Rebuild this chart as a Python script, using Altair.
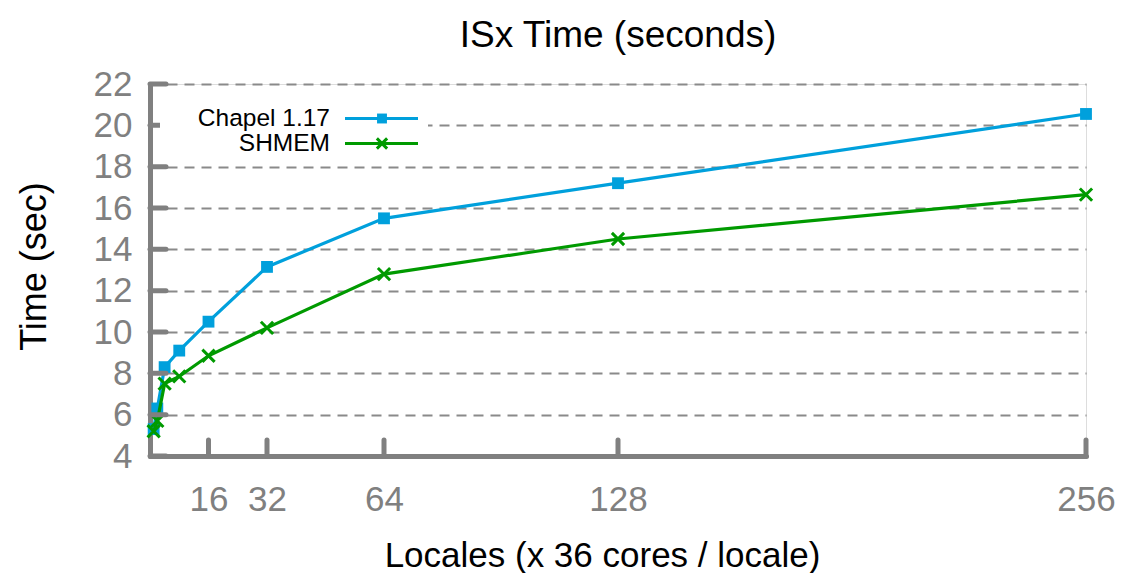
import altair as alt
import pandas as pd

# ISx weak-scaling timings
locales = [1, 2, 4, 8, 16, 32, 64, 128, 256]
chapel_times = [5.3, 6.3, 8.3, 9.1, 10.5, 13.15, 15.5, 17.2, 20.55]
shmem_times = [5.2, 5.7, 7.5, 7.85, 8.85, 10.2, 12.8, 14.5, 16.65]

series_names = ["Chapel 1.17", "SHMEM"]
series_colors = ["#00a0dc", "#009a00"]
x_tick_values = [16, 32, 64, 128, 256]
y_tick_values = list(range(4, 23, 2))

W, H = 936, 372
FONT = "Liberation Sans"
GRAY = "#808080"
CROSS = "M-1,-1L1,1M-1,1L1,-1"

df = pd.DataFrame({
    "locales": locales + locales,
    "time": chapel_times + shmem_times,
    "series": [series_names[0]] * len(locales) + [series_names[1]] * len(locales),
})

x_scale = alt.Scale(domain=[0, 256], nice=False, zero=True)
y_scale = alt.Scale(domain=[4, 22], nice=False, zero=False)
color_scale = alt.Scale(domain=series_names, range=series_colors)

x_axis = alt.Axis(
    values=x_tick_values, title="Locales (x 36 cores / locale)", grid=False,
    ticks=False, tickSize=0, labelFontSize=35, labelColor=GRAY, labelFont=FONT,
    labelPadding=26, labelFlush=False, labelOverlap=False,
    domainColor=GRAY, domainWidth=5, domainCap="round",
    titleFontSize=35, titleFont=FONT, titleColor="black", titleFontWeight="normal",
    titleX=452, titleY=110, titleBaseline="alphabetic",
)
y_axis = alt.Axis(
    values=y_tick_values, title="Time (sec)", grid=True, gridDash=[10, 7],
    gridColor="#8a8a8a", gridWidth=2, ticks=False, tickSize=0,
    labelFontSize=35, labelColor=GRAY, labelFont=FONT, labelPadding=18,
    domainColor=GRAY, domainWidth=5, domainCap="round",
    titleFontSize=36, titleFont=FONT, titleColor="black", titleFontWeight="normal",
    titleX=-105, titleY=182, titleBaseline="alphabetic", titleAngle=270,
)

base = alt.Chart(df).encode(
    x=alt.X("locales:Q", scale=x_scale, axis=x_axis),
    y=alt.Y("time:Q", scale=y_scale, axis=y_axis),
    color=alt.Color("series:N", scale=color_scale, legend=None),
)

layers = []
shapes = {series_names[0]: ("square", True, 140), series_names[1]: (CROSS, False, 150)}
for name in series_names:
    shape, filled, size = shapes[name]
    sel = base.transform_filter(alt.datum.series == name)
    layers.append(sel.mark_line(strokeWidth=3.2))
    layers.append(sel.mark_point(shape=shape, filled=filled, size=size,
                                 strokeWidth=3, opacity=1))

# inward tick marks on both axes
y_ticks = alt.Chart(pd.DataFrame({"time": y_tick_values})).mark_rule(
    color=GRAY, strokeWidth=5, strokeCap="round"
).encode(y=alt.Y("time:Q", scale=y_scale), x=alt.value(0), x2=alt.value(16))

x_ticks = alt.Chart(pd.DataFrame({"locales": x_tick_values})).mark_rule(
    color=GRAY, strokeWidth=5, strokeCap="round"
).encode(x=alt.X("locales:Q", scale=x_scale), y=alt.value(H), y2=alt.value(H - 16))

# key in the upper-left corner on a white box: label, line sample, marker
key_box = alt.Chart(pd.DataFrame({"series": ["key"]})).mark_rect(
    color="white", opacity=1
).encode(x=alt.value(10), x2=alt.value(278), y=alt.value(12), y2=alt.value(76))

legend_layers = [key_box]
for i, name in enumerate(series_names):
    ly = 34.5 + 25 * i
    shape, filled, size = shapes[name]
    one = alt.Chart(pd.DataFrame({"series": [name]}))
    legend_layers.append(one.mark_text(
        align="right", baseline="middle", fontSize=24.5, font=FONT, color="black"
    ).encode(x=alt.value(180), y=alt.value(ly), text="series:N"))
    legend_layers.append(one.mark_rule(color=series_colors[i], strokeWidth=3).encode(
        x=alt.value(195), x2=alt.value(268), y=alt.value(ly)))
    legend_layers.append(one.mark_point(
        shape=shape, filled=filled, size=size * 0.7, strokeWidth=3,
        color=series_colors[i], opacity=1
    ).encode(x=alt.value(232), y=alt.value(ly)))

chart = alt.layer(*layers, y_ticks, x_ticks, *legend_layers).properties(
    width=W, height=H,
    title=alt.TitleParams(
        "ISx Time (seconds)", fontSize=37, font=FONT, fontWeight="normal",
        color="black", anchor="middle", baseline="alphabetic", offset=25, dy=42,
    ),
    autosize=alt.AutoSizeParams(type="none"),
    padding={"left": 150, "top": 84, "right": 39, "bottom": 117},
).configure_view(stroke=None).configure(background="white")

chart.save("out.html", embed_options={"renderer": "svg", "actions": False})
